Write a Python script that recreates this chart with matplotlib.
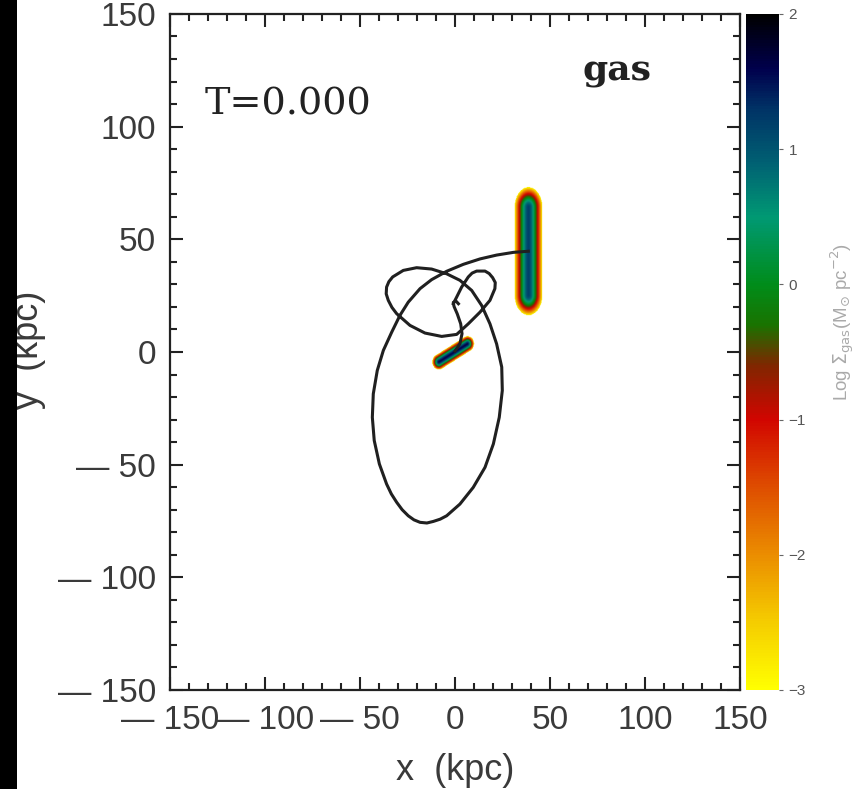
import numpy as np
import matplotlib
matplotlib.use("Agg")
import matplotlib.pyplot as plt
from matplotlib.colors import LinearSegmentedColormap
from matplotlib.ticker import MultipleLocator
from matplotlib.patches import Rectangle

# ---------------- data ----------------
# orbit of galaxy 1 (starts at the large gas disc, x/y in kpc)
orbit1_x = [38.6, 30.7, 21.9, 13.2, 4.4, -4.4, -12.3, -18.4, -24.6, -29.0, -33.3, -37.7,
            -40.9, -43.0, -43.5, -42.5, -39.8, -36.0, -33.5, -30.7, -27.8, -24.6, -21.6,
            -18.4, -14.8, -11.4, -7.8, -4.4, 2.6, 9.6, 15.8, 20.2, 23.3, 24.9, 24.6, 21.9,
            18.4, 14.0, 8.8, 2.6, -4.4, -12.3, -20.2, -27.2, -32.8, -34.8, -36.0, -36.2,
            -35.1, -33.2, -30.7, -23.7, -15.8, -7.0, 0.9, 7.0, 13.2, 18.4, 21.0, 21.2,
            19.8, 18.0, 15.8, 11.4, 9.0, 7.0, 3.5, 0.9, -0.9]
orbit1_y = [44.7, 44.2, 43.0, 41.3, 38.9, 35.8, 32.1, 28.1, 22.1, 16.2, 8.8, 0.7,
            -8.2, -18.6, -29.0, -39.3, -49.7, -58.6, -63.0, -66.7, -70.0, -72.7, -74.5,
            -75.6, -75.9, -75.2, -74.2, -72.7, -67.5, -60.1, -51.2, -40.8, -29.0, -17.1, -6.7, 3.6,
            12.5, 20.7, 27.3, 31.8, 34.7, 36.8, 37.4, 36.2, 33.3, 31.2, 28.8, 25.8,
            22.9, 19.8, 17.0, 11.8, 8.4, 6.9, 7.8, 12.5, 17.7, 22.9, 28.1, 30.8,
            33.0, 34.8, 35.9, 35.9, 35.0, 33.3, 28.8, 24.4, 21.4]
# orbit of galaxy 2 (starts at the small gas disc)
orbit2_x = [0.0, 2.6, 3.7, 3.0, 1.2, -0.5, -0.9, 0.5, 1.8]
orbit2_y = [0.4, 3.6, 8.1, 12.5, 16.9, 20.2, 22.0, 22.6, 21.4]

# gas discs: centre, half-length of straight part, cap length, half-width (kpc),
# orientation (deg), peak log surface density, profile shape
gas_cx = [38.4, -1.2]
gas_cy = [44.5, -0.6]
gas_half_len = [19.5, 8.5]
gas_cap = [9.0, 3.6]
gas_half_wid = [7.4, 3.5]
gas_angle = [90.0, 28.0]
gas_peak = [1.2, 1.6]
gas_shape = [1.6, 1.6]

cbar_ticks = [-3, -2, -1, 0, 1, 2]
axis_ticks = [-150, -100, -50, 0, 50, 100, 150]
time_label = "T=0.000"
component_label = "gas"

# ---------------- colour map ----------------
cmap = LinearSegmentedColormap.from_list("gasmap", [
    (0.00, (1.00, 1.00, 0.00)),
    (0.10, (0.96, 0.80, 0.00)),
    (0.20, (0.92, 0.55, 0.00)),
    (0.30, (0.87, 0.30, 0.00)),
    (0.40, (0.82, 0.02, 0.00)),
    (0.48, (0.50, 0.15, 0.00)),
    (0.54, (0.10, 0.45, 0.00)),
    (0.60, (0.00, 0.55, 0.10)),
    (0.70, (0.00, 0.60, 0.45)),
    (0.78, (0.00, 0.38, 0.45)),
    (0.86, (0.00, 0.20, 0.40)),
    (0.92, (0.00, 0.00, 0.30)),
    (1.00, (0.00, 0.00, 0.00)),
])
cmap.set_bad((1, 1, 1, 0))

# ---------------- figure ----------------
fig = plt.figure(figsize=(8.65, 7.89), dpi=100, facecolor="white")
ax = fig.add_axes([0.1965, 0.1255, 0.659, 0.8568])
cax = fig.add_axes([0.8624, 0.1255, 0.038, 0.8568])

# gas surface density map
n = 900
gx = np.linspace(-150, 150, n)
gy = np.linspace(-150, 150, n)
X, Y = np.meshgrid(gx, gy)
field = np.full(X.shape, -10.0)
for cx, cy, L, cap, w, ang, pk, sh in zip(gas_cx, gas_cy, gas_half_len, gas_cap,
                                          gas_half_wid, gas_angle, gas_peak, gas_shape):
    t = np.deg2rad(ang)
    u = (X - cx) * np.cos(t) + (Y - cy) * np.sin(t)
    v = -(X - cx) * np.sin(t) + (Y - cy) * np.cos(t)
    ue = np.maximum(np.abs(u) - L, 0.0)
    r = np.sqrt((ue / cap) ** 2 + (v / w) ** 2)
    val = pk - (pk + 3.0) * r ** sh
    field = np.maximum(field, val)
field = np.ma.masked_less(field, -3.0)
im = ax.imshow(field, extent=[-150, 150, -150, 150], origin="lower", cmap=cmap,
               vmin=-3, vmax=2, aspect="auto", interpolation="bilinear", zorder=1)

ax.plot(orbit1_x, orbit1_y, color="#202020", lw=2.2, zorder=3, solid_joinstyle="round")
ax.plot(orbit2_x, orbit2_y, color="#202020", lw=2.2, zorder=3, solid_joinstyle="round")

ax.set_xlim(-150, 150)
ax.set_ylim(-150, 150)
ax.set_xticks(axis_ticks)
ax.set_yticks(axis_ticks)
tick_text = [("\u2014 " + str(abs(t))) if t < 0 else str(t) for t in axis_ticks]
ax.set_xticklabels(tick_text)
ax.set_yticklabels(tick_text)
ax.xaxis.set_minor_locator(MultipleLocator(10))
ax.yaxis.set_minor_locator(MultipleLocator(10))
ax.tick_params(which="both", direction="in", top=True, right=True, width=1.5, color="#222222")
ax.tick_params(which="major", length=9.5, labelsize=24, labelcolor="#3a3a3a", pad=10)
ax.tick_params(axis="x", which="major", pad=11)
ax.tick_params(which="minor", length=4.8)
for lab in ax.get_xticklabels() + ax.get_yticklabels():
    lab.set_family("Liberation Sans")
for s in ax.spines.values():
    s.set_linewidth(1.6)
    s.set_color("#222222")

fig.text(455 / 865, 1 - 771 / 789, "x  (kpc)", fontsize=26, color="#3a3a3a",
         family="Liberation Sans", ha="center", va="center")
fig.text(29 / 865, 1 - 350 / 789, "y  (kpc)", rotation=90, fontsize=26, color="#3a3a3a",
         family="Liberation Sans", ha="center", va="center")

ax.text(-131.5, 105.5, time_label, fontsize=27.5, family="DejaVu Serif", color="#222222",
        ha="left", va="baseline")
ax.text(67.0, 120.5, component_label, fontsize=26, family="DejaVu Serif", weight="bold",
        color="#222222", ha="left", va="baseline")

# colour bar
cb = fig.colorbar(im, cax=cax, ticks=cbar_ticks)
cb.outline.set_linewidth(0.0)
cax.tick_params(length=3, width=0.8, color="#666666", labelsize=11, labelcolor="#555555", pad=4)
cax.set_yticklabels([f"{t}".replace("-", "\u2212") for t in cbar_ticks], family="Liberation Sans")
fig.text(0.975, 0.592, r"Log $\Sigma_{\rm gas}$(M$_{\odot}$ pc$^{-2}$)", rotation=90,
         fontsize=13.5, color="#aaaaaa", ha="center", va="center", family="Liberation Sans")

# black strip on the far left
fig.patches.append(Rectangle((0, 0), 17 / 865, 1, transform=fig.transFigure,
                             facecolor="black", edgecolor="none", zorder=10))

fig.savefig("out.png", dpi=100, facecolor="white")
